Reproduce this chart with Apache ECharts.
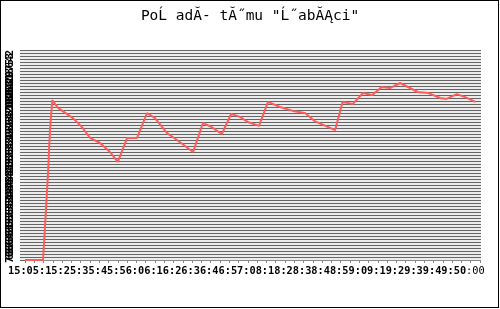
<!DOCTYPE html>
<html>
<head>
<meta charset="utf-8">
<script src="https://cdn.jsdelivr.net/npm/echarts@6/dist/echarts.min.js"></script>
<style>
html,body{margin:0;padding:0;background:#fff;}
#wrap{position:relative;width:500px;height:309px;}
#chart{width:500px;height:309px;}
#frame{position:absolute;left:0;top:0;width:497px;height:306px;border:1px solid #000;pointer-events:none;}
</style>
</head>
<body>
<div id="wrap"><div id="chart"></div><div id="frame"></div></div>
<script>
// ---- data ----
const titleText = 'PoĹ adĂ- tĂ˝mu "Ĺ˝abĂĄci"';
// x positions in tick units (one tick = one time step), ranks (1 = top)
const timePos = [0, 1.94, 2.15, 2.48, 2.69, 2.94, 3.55, 5.17, 6.14, 7.0, 8.08, 9.15, 10.0, 11.0, 12.06, 13.14, 14.0, 15.3, 16.37, 18.1, 19.17, 20.1, 21.2, 22.2, 23.15, 24.0, 25.2, 26.17, 27.46, 28.86, 30.15, 31.2, 33.4, 34.2, 35.3, 36.4, 37.4, 38.4, 39.3, 40.4, 42.3, 43.4, 44.7, 45.4, 46.5, 47.4, 48.5];
const rankValues = [71, 71, 60, 42, 27.7, 17.7, 20.3, 23.7, 26.7, 30.3, 32, 35, 38.3, 30.3, 30.3, 22, 23.7, 28.7, 31, 35, 25.3, 26.7, 29, 22.3, 23.3, 25, 26.3, 18.3, 20, 21.3, 22, 24.7, 27.7, 18.3, 19, 15.3, 16, 13.3, 13.7, 12, 15, 15.3, 17, 17.3, 15.7, 16.7, 18.3];
const xTickLabels = ["15:05", ":15", ":25", ":35", ":45", ":56", ":06", ":16", ":26", ":36", ":46", ":57", ":08", ":18", ":28", ":38", ":48", ":59", ":09", ":19", ":29", ":39", ":49", ":50", ":00"];
const yTickLabels = [];
for (let i = 1; i <= 71; i++) yTickLabels.push(String(i));

const seriesData = timePos.map((t, i) => [t, rankValues[i]]);

const chart = echarts.init(document.getElementById('chart'), null, {renderer: 'canvas'});
const mono = 'DejaVu Sans Mono';
chart.setOption({
  animation: false,
  backgroundColor: '#fff',
  title: {
    text: titleText, left: 'center', top: 4,
    textStyle: {fontFamily: mono, fontSize: 14.5, fontWeight: 'normal', color: '#000'}
  },
  grid: [
    {left: 20, width: 461, top: 50, height: 210, show: true, backgroundColor: '#ececec', borderWidth: 0, outerBoundsMode: 'none', containLabel: false},
    {left: 25, width: 455, top: 50, height: 210, outerBoundsMode: 'none', containLabel: false}
  ],
  xAxis: [
    {gridIndex: 0, type: 'value', min: 0, max: 1, show: false},
    {
      gridIndex: 1, type: 'value', min: 0, max: 49, interval: 1,
      axisLine: {show: true, lineStyle: {color: '#888', width: 1}},
      axisTick: {show: true, length: 3, lineStyle: {color: '#888'}},
      splitLine: {show: false},
      axisLabel: {
        show: true, margin: 6,
        formatter: function (v) {
          if (v % 2 !== 0) return '';
          const idx = v / 2;
          const s = xTickLabels[idx];
          if (s === undefined) return '';
          if (idx === 0) return '{f|' + s + '}';
          if (idx === xTickLabels.length - 1) return '{l|' + s + '}';
          return '{n|' + s + '}';
        },
        rich: {
          f: {fontFamily: mono, fontSize: 10.3, fontWeight: 'bold', color: '#000', padding: [0, 3, 0, 0]},
          n: {fontFamily: mono, fontSize: 10.3, fontWeight: 'bold', color: '#000', padding: [0, 0, 0, 9.4]},
          l: {fontFamily: mono, fontSize: 10.3, fontWeight: 'normal', color: '#000', padding: [0, 0, 0, 9.4]}
        }
      }
    }
  ],
  yAxis: [
    {
      gridIndex: 0, type: 'value', inverse: true, min: 1, max: 71, interval: 1,
      axisLine: {show: false}, axisTick: {show: false},
      splitLine: {show: true, lineStyle: {color: '#666', width: 1}},
      axisLabel: {
        show: true, rotate: 90, margin: 5,
        fontFamily: mono, fontSize: 10, fontWeight: 'bold', color: '#000',
        formatter: function (v) { return yTickLabels[v - 1] || ''; }
      }
    },
    {gridIndex: 1, type: 'value', inverse: true, min: 1, max: 71, show: false}
  ],
  series: [{
    type: 'line', xAxisIndex: 1, yAxisIndex: 1,
    data: seriesData, showSymbol: false, symbol: 'none',
    lineStyle: {color: '#ff5c5c', width: 2}
  }]
});
</script>
</body>
</html>
